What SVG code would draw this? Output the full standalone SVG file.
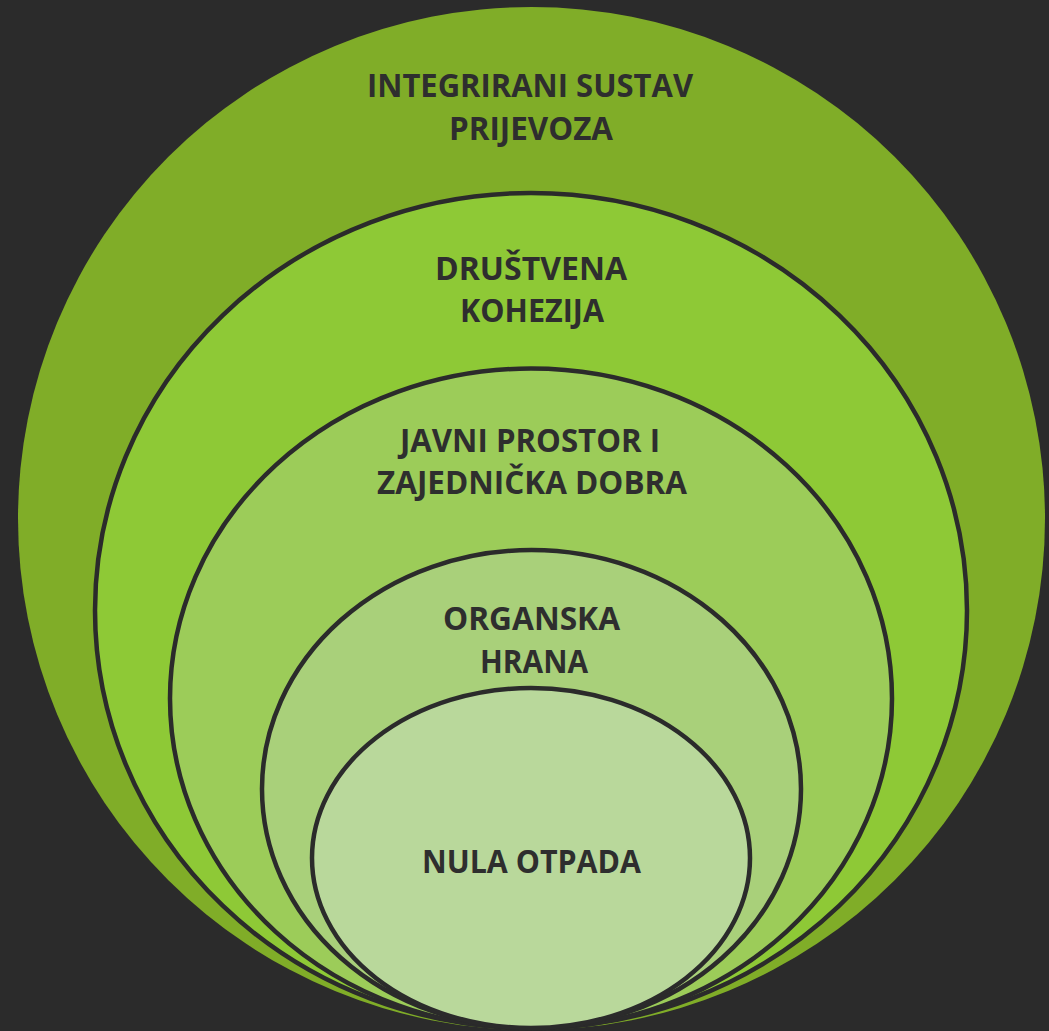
<svg xmlns="http://www.w3.org/2000/svg" width="1049" height="1031" viewBox="0 0 1049 1031">
<style>
.ring{stroke:#2b2b2b;stroke-width:4.5}
.lbl{font-family:"Open Sans","Liberation Sans",sans-serif;font-weight:700;font-size:33px;fill:#2e2e2e;text-anchor:middle}
</style>
<rect width="1049" height="1031" fill="#2b2b2b"/>
<g id="n1">
<ellipse cx="531.5" cy="518.5" rx="513.5" ry="511.5" fill="#80ad28"/>
<text class="lbl" x="530" y="97" textLength="326" lengthAdjust="spacingAndGlyphs">INTEGRIRANI SUSTAV</text>
<text class="lbl" x="531" y="140" textLength="164" lengthAdjust="spacingAndGlyphs">PRIJEVOZA</text>
</g>
<g id="n2">
<ellipse class="ring" cx="531" cy="610.5" rx="436" ry="417.5" fill="#8ec936"/>
<text class="lbl" x="531" y="280" textLength="192" lengthAdjust="spacingAndGlyphs">DRUŠTVENA</text>
<text class="lbl" x="532" y="322" textLength="144" lengthAdjust="spacingAndGlyphs">KOHEZIJA</text>
</g>
<g id="n3">
<ellipse class="ring" cx="531" cy="698.5" rx="361" ry="330" fill="#9ccc59"/>
<text class="lbl" x="530" y="452" textLength="260" lengthAdjust="spacingAndGlyphs">JAVNI PROSTOR I</text>
<text class="lbl" x="532" y="494" textLength="310" lengthAdjust="spacingAndGlyphs">ZAJEDNIČKA DOBRA</text>
</g>
<g id="n4">
<ellipse class="ring" cx="531.5" cy="789" rx="269.5" ry="239" fill="#a9d07a"/>
<text class="lbl" x="531.5" y="630" textLength="177" lengthAdjust="spacingAndGlyphs">ORGANSKA</text>
<text class="lbl" x="534" y="673" textLength="108" lengthAdjust="spacingAndGlyphs">HRANA</text>
</g>
<g id="n5">
<ellipse class="ring" cx="531" cy="858" rx="219" ry="170" fill="#b9d89b"/>
<text class="lbl" x="531.5" y="873" textLength="219" lengthAdjust="spacingAndGlyphs">NULA OTPADA</text>
</g>
<g id="connectors"/>
</svg>
